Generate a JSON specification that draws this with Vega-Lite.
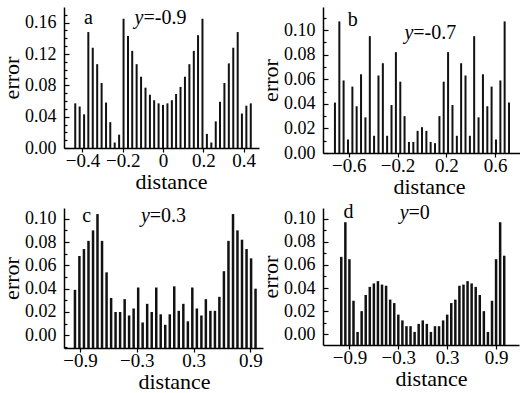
{
"$schema": "https://vega.github.io/schema/vega-lite/v6.json",
"padding": {"left": 0, "top": 7, "right": 0, "bottom": 0},
"background": "white",
"config": {
  "font": "Liberation Serif",
  "view": {"stroke": null},
  "axis": {"grid": false, "domainColor": "#000", "domainWidth": 1.5, "tickColor": "#000", "tickWidth": 1.2,
    "labelColor": "#000", "titleColor": "#000", "labelFont": "Liberation Serif", "titleFont": "Liberation Serif",
    "labelFontSize": 18, "titleFontSize": 22, "titleFontWeight": "normal", "labelOverlap": false, "labelFlush": false},
  "axisY": {"tickSize": -5, "labelPadding": 13, "titlePadding": 1},
  "axisX": {"tickSize": 4, "labelPadding": -1, "titlePadding": 1, "labelFontSize": 19}
},
"datasets": {
  "a": [
    {"distance": -0.436, "error": 0.057}, {"distance": -0.414, "error": 0.053}, {"distance": -0.392, "error": 0.043},
    {"distance": -0.371, "error": 0.148}, {"distance": -0.349, "error": 0.128}, {"distance": -0.327, "error": 0.107},
    {"distance": -0.305, "error": 0.083}, {"distance": -0.283, "error": 0.058}, {"distance": -0.262, "error": 0.033},
    {"distance": -0.240, "error": 0.007}, {"distance": -0.218, "error": 0.017}, {"distance": -0.196, "error": 0.165},
    {"distance": -0.174, "error": 0.143}, {"distance": -0.153, "error": 0.124}, {"distance": -0.131, "error": 0.107},
    {"distance": -0.109, "error": 0.091}, {"distance": -0.087, "error": 0.077}, {"distance": -0.065, "error": 0.068},
    {"distance": -0.044, "error": 0.061}, {"distance": -0.022, "error": 0.057}, {"distance": 0, "error": 0.055},
    {"distance": 0.022, "error": 0.057}, {"distance": 0.044, "error": 0.061}, {"distance": 0.065, "error": 0.069},
    {"distance": 0.087, "error": 0.078}, {"distance": 0.109, "error": 0.091}, {"distance": 0.131, "error": 0.107},
    {"distance": 0.153, "error": 0.124}, {"distance": 0.174, "error": 0.144}, {"distance": 0.196, "error": 0.165},
    {"distance": 0.218, "error": 0.018}, {"distance": 0.240, "error": 0.007}, {"distance": 0.262, "error": 0.034},
    {"distance": 0.283, "error": 0.059}, {"distance": 0.305, "error": 0.083}, {"distance": 0.327, "error": 0.108},
    {"distance": 0.349, "error": 0.128}, {"distance": 0.371, "error": 0.148}, {"distance": 0.392, "error": 0.044},
    {"distance": 0.414, "error": 0.054}, {"distance": 0.436, "error": 0.057}
  ],
  "b": [
    {"distance": -0.714, "error": 0.041}, {"distance": -0.678, "error": 0.107}, {"distance": -0.643, "error": 0.059},
    {"distance": -0.607, "error": 0.011}, {"distance": -0.571, "error": 0.054}, {"distance": -0.536, "error": 0.038},
    {"distance": -0.500, "error": 0.064}, {"distance": -0.464, "error": 0.029}, {"distance": -0.428, "error": 0.095},
    {"distance": -0.393, "error": 0.014}, {"distance": -0.357, "error": 0.063}, {"distance": -0.321, "error": 0.073},
    {"distance": -0.286, "error": 0.014}, {"distance": -0.250, "error": 0.039}, {"distance": -0.214, "error": 0.082},
    {"distance": -0.178, "error": 0.058}, {"distance": -0.143, "error": 0.030}, {"distance": -0.107, "error": 0.009},
    {"distance": -0.071, "error": 0.009}, {"distance": -0.036, "error": 0.018}, {"distance": 0, "error": 0.021},
    {"distance": 0.036, "error": 0.018}, {"distance": 0.071, "error": 0.009}, {"distance": 0.107, "error": 0.008},
    {"distance": 0.143, "error": 0.030}, {"distance": 0.178, "error": 0.058}, {"distance": 0.214, "error": 0.082},
    {"distance": 0.250, "error": 0.039}, {"distance": 0.286, "error": 0.014}, {"distance": 0.321, "error": 0.073},
    {"distance": 0.357, "error": 0.063}, {"distance": 0.393, "error": 0.014}, {"distance": 0.428, "error": 0.095},
    {"distance": 0.464, "error": 0.029}, {"distance": 0.500, "error": 0.064}, {"distance": 0.536, "error": 0.038},
    {"distance": 0.571, "error": 0.054}, {"distance": 0.607, "error": 0.011}, {"distance": 0.643, "error": 0.059},
    {"distance": 0.678, "error": 0.107}, {"distance": 0.714, "error": 0.041}
  ],
  "c": [
    {"distance": -0.954, "error": 0.039}, {"distance": -0.907, "error": 0.068}, {"distance": -0.859, "error": 0.074},
    {"distance": -0.811, "error": 0.081}, {"distance": -0.763, "error": 0.090}, {"distance": -0.716, "error": 0.104},
    {"distance": -0.668, "error": 0.081}, {"distance": -0.620, "error": 0.054}, {"distance": -0.572, "error": 0.032},
    {"distance": -0.525, "error": 0.020}, {"distance": -0.477, "error": 0.020}, {"distance": -0.429, "error": 0.031},
    {"distance": -0.382, "error": 0.017}, {"distance": -0.334, "error": 0.023}, {"distance": -0.286, "error": 0.041},
    {"distance": -0.239, "error": 0.011}, {"distance": -0.191, "error": 0.027}, {"distance": -0.143, "error": 0.020},
    {"distance": -0.095, "error": 0.041}, {"distance": -0.048, "error": 0.018}, {"distance": 0, "error": 0.009},
    {"distance": 0.048, "error": 0.018}, {"distance": 0.095, "error": 0.042}, {"distance": 0.143, "error": 0.021},
    {"distance": 0.191, "error": 0.027}, {"distance": 0.239, "error": 0.012}, {"distance": 0.286, "error": 0.041},
    {"distance": 0.334, "error": 0.023}, {"distance": 0.382, "error": 0.017}, {"distance": 0.429, "error": 0.031},
    {"distance": 0.477, "error": 0.021}, {"distance": 0.525, "error": 0.021}, {"distance": 0.572, "error": 0.033},
    {"distance": 0.620, "error": 0.055}, {"distance": 0.668, "error": 0.081}, {"distance": 0.716, "error": 0.104},
    {"distance": 0.763, "error": 0.090}, {"distance": 0.811, "error": 0.082}, {"distance": 0.859, "error": 0.074},
    {"distance": 0.907, "error": 0.066}, {"distance": 0.954, "error": 0.040}
  ],
  "d": [
    {"distance": -1.0, "error": 0.067}, {"distance": -0.95, "error": 0.097}, {"distance": -0.9, "error": 0.065},
    {"distance": -0.85, "error": 0.029}, {"distance": -0.8, "error": 0.002}, {"distance": -0.75, "error": 0.020},
    {"distance": -0.7, "error": 0.034}, {"distance": -0.65, "error": 0.041}, {"distance": -0.6, "error": 0.044},
    {"distance": -0.55, "error": 0.046}, {"distance": -0.5, "error": 0.043}, {"distance": -0.45, "error": 0.042},
    {"distance": -0.4, "error": 0.030}, {"distance": -0.35, "error": 0.027}, {"distance": -0.3, "error": 0.017},
    {"distance": -0.25, "error": 0.012}, {"distance": -0.2, "error": 0.007}, {"distance": -0.15, "error": 0.007},
    {"distance": -0.1, "error": 0.002}, {"distance": -0.05, "error": 0.009}, {"distance": 0, "error": 0.012},
    {"distance": 0.05, "error": 0.009}, {"distance": 0.1, "error": 0.002}, {"distance": 0.15, "error": 0.007},
    {"distance": 0.2, "error": 0.007}, {"distance": 0.25, "error": 0.012}, {"distance": 0.3, "error": 0.017},
    {"distance": 0.35, "error": 0.027}, {"distance": 0.4, "error": 0.030}, {"distance": 0.45, "error": 0.042},
    {"distance": 0.5, "error": 0.043}, {"distance": 0.55, "error": 0.046}, {"distance": 0.6, "error": 0.044},
    {"distance": 0.65, "error": 0.041}, {"distance": 0.7, "error": 0.034}, {"distance": 0.75, "error": 0.020},
    {"distance": 0.8, "error": 0.002}, {"distance": 0.85, "error": 0.029}, {"distance": 0.9, "error": 0.065},
    {"distance": 0.95, "error": 0.097}, {"distance": 1.0, "error": 0.068}
  ]
},
"columns": 2,
"bounds": "flush",
"spacing": {"row": 55, "column": 60},
"concat": [
  {
    "width": 195, "height": 141,
    "resolve": {"axis": {"y": "independent"}},
    "layer": [
      {"data": {"name": "a"},
       "mark": {"type": "bar", "width": 2, "color": "#111"},
       "encoding": {
         "x": {"field": "distance", "type": "quantitative", "scale": {"domain": [-0.467, 0.452], "nice": false, "zero": false},
               "axis": {"title": "distance", "titleX": 107, "values": [-0.4, -0.3, -0.2, -0.1, 0, 0.1, 0.2, 0.3, 0.4],
                        "labelExpr": "abs(round(datum.value*10))%2==0 ? format(datum.value, '~g') : ''"}},
         "y": {"field": "error", "type": "quantitative", "scale": {"domain": [0, 0.18], "nice": false},
               "axis": {"title": "error", "values": [0, 0.04, 0.08, 0.12, 0.16], "format": ".2f"}}
       }},
      {"data": {"values": [{}]}, "mark": {"type": "text", "text": "a", "fontSize": 20, "align": "center", "baseline": "middle"},
       "encoding": {"x": {"datum": -0.37},
                    "y": {"datum": 0.166, "axis": {"orient": "left", "labels": false, "domain": false, "title": null, "tickSize": -3,
                          "values": [0.01, 0.02, 0.03, 0.05, 0.06, 0.07, 0.09, 0.1, 0.11, 0.13, 0.14, 0.15, 0.17]}}}},
      {"data": {"values": [{}]}, "mark": {"type": "text", "text": "y", "fontSize": 20, "fontStyle": "italic", "align": "right", "baseline": "middle"},
       "encoding": {"x": {"datum": -0.097}, "y": {"datum": 0.166, "axis": null}}},
      {"data": {"values": [{}]}, "mark": {"type": "text", "text": "=-0.9", "fontSize": 20, "align": "left", "baseline": "middle"},
       "encoding": {"x": {"datum": -0.097}, "y": {"datum": 0.166, "axis": null}}}
    ]
  },
  {
    "width": 197, "height": 146,
    "resolve": {"axis": {"y": "independent"}},
    "layer": [
      {"data": {"name": "b"},
       "mark": {"type": "bar", "width": 2, "color": "#111"},
       "encoding": {
         "x": {"field": "distance", "type": "quantitative", "scale": {"domain": [-0.771, 0.763], "nice": false, "zero": false},
               "axis": {"title": "distance", "titleX": 106, "values": [-0.6, -0.4, -0.2, 0, 0.2, 0.4, 0.6],
                        "labelExpr": "abs(round(datum.value*10))%4==2 ? format(datum.value, '~g') : ''"}},
         "y": {"field": "error", "type": "quantitative", "scale": {"domain": [0, 0.1187], "nice": false},
               "axis": {"title": "error", "values": [0, 0.02, 0.04, 0.06, 0.08, 0.1], "format": ".2f"}}
       }},
      {"data": {"values": [{}]}, "mark": {"type": "text", "text": "b", "fontSize": 20, "align": "center", "baseline": "middle"},
       "encoding": {"x": {"datum": -0.567},
                    "y": {"datum": 0.108, "axis": {"orient": "left", "labels": false, "domain": false, "title": null, "tickSize": -3,
                          "values": [0.01, 0.03, 0.05, 0.07, 0.09, 0.11]}}}},
      {"data": {"values": [{}]}, "mark": {"type": "text", "text": "y", "fontSize": 20, "fontStyle": "italic", "align": "right", "baseline": "middle"},
       "encoding": {"x": {"datum": -0.071}, "y": {"datum": 0.0976, "axis": null}}},
      {"data": {"values": [{}]}, "mark": {"type": "text", "text": "=-0.7", "fontSize": 20, "align": "left", "baseline": "middle"},
       "encoding": {"x": {"datum": -0.071}, "y": {"datum": 0.0976, "axis": null}}}
    ]
  },
  {
    "width": 199, "height": 140,
    "resolve": {"axis": {"y": "independent"}},
    "layer": [
      {"data": {"name": "c"},
       "mark": {"type": "bar", "width": 2.5, "color": "#111"},
       "encoding": {
         "x": {"field": "distance", "type": "quantitative", "scale": {"domain": [-1.017, 0.98], "nice": false, "zero": false},
               "axis": {"title": "distance", "titleX": 110, "values": [-0.9, -0.6, -0.3, 0, 0.3, 0.6, 0.9],
                        "labelExpr": "abs(round(datum.value*10))%6==3 ? format(datum.value, '~g') : ''"}},
         "y": {"field": "error", "type": "quantitative", "scale": {"domain": [-0.0109, 0.1092], "nice": false, "zero": false},
               "axis": {"title": "error", "values": [0, 0.02, 0.04, 0.06, 0.08, 0.1], "format": ".2f"}},
         "y2": {"datum": -0.0109}
       }},
      {"data": {"values": [{}]}, "mark": {"type": "text", "text": "c", "fontSize": 20, "align": "center", "baseline": "middle"},
       "encoding": {"x": {"datum": -0.831},
                    "y": {"datum": 0.102, "axis": {"orient": "left", "labels": false, "domain": false, "title": null, "tickSize": -3,
                          "values": [-0.01, 0.01, 0.03, 0.05, 0.07, 0.09]}}}},
      {"data": {"values": [{}]}, "mark": {"type": "text", "text": "y", "fontSize": 20, "fontStyle": "italic", "align": "right", "baseline": "middle"},
       "encoding": {"x": {"datum": -0.163}, "y": {"datum": 0.102, "axis": null}}},
      {"data": {"values": [{}]}, "mark": {"type": "text", "text": "=0.3", "fontSize": 20, "align": "left", "baseline": "middle"},
       "encoding": {"x": {"datum": -0.163}, "y": {"datum": 0.102, "axis": null}}}
    ]
  },
  {
    "width": 196, "height": 137,
    "resolve": {"axis": {"y": "independent"}},
    "layer": [
      {"data": {"name": "d"},
       "mark": {"type": "bar", "width": 2.5, "color": "#111"},
       "encoding": {
         "x": {"field": "distance", "type": "quantitative", "scale": {"domain": [-1.163, 1.12], "nice": false, "zero": false},
               "axis": {"title": "distance", "titleX": 108, "values": [-0.9, -0.6, -0.3, 0, 0.3, 0.6, 0.9],
                        "labelExpr": "abs(round(datum.value*10))%6==3 ? format(datum.value, '~g') : ''"}},
         "y": {"field": "error", "type": "quantitative", "scale": {"domain": [-0.0093, 0.1093], "nice": false, "zero": false},
               "axis": {"title": "error", "values": [0, 0.02, 0.04, 0.06, 0.08, 0.1], "format": ".2f"}},
         "y2": {"datum": -0.0093}
       }},
      {"data": {"values": [{}]}, "mark": {"type": "text", "text": "d", "fontSize": 20, "align": "center", "baseline": "middle"},
       "encoding": {"x": {"datum": -0.912},
                    "y": {"datum": 0.106, "axis": {"orient": "left", "labels": false, "domain": false, "title": null, "tickSize": -3,
                          "values": [0.01, 0.03, 0.05, 0.07, 0.09]}}}},
      {"data": {"values": [{}]}, "mark": {"type": "text", "text": "y", "fontSize": 20, "fontStyle": "italic", "align": "right", "baseline": "middle"},
       "encoding": {"x": {"datum": -0.174}, "y": {"datum": 0.105, "axis": null}}},
      {"data": {"values": [{}]}, "mark": {"type": "text", "text": "=0", "fontSize": 20, "align": "left", "baseline": "middle"},
       "encoding": {"x": {"datum": -0.174}, "y": {"datum": 0.105, "axis": null}}}
    ]
  }
]
}
